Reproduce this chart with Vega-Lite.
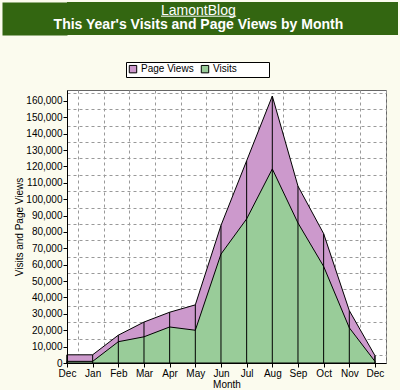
{
  "$schema": "https://vega.github.io/schema/vega-lite/v6.json",
  "background": "#fbfbee",
  "padding": {"left": 14, "top": 2, "right": 2, "bottom": 0},
  "spacing": 54,
  "config": {
    "font": "Liberation Sans",
    "axis": {
      "labelFont": "Liberation Sans",
      "labelFontSize": 10,
      "labelColor": "black",
      "titleFont": "Liberation Sans",
      "titleFontSize": 10,
      "titleFontWeight": "normal",
      "titleColor": "black",
      "domainColor": "black",
      "tickColor": "black"
    },
    "legend": {
      "labelFont": "Liberation Sans",
      "labelFontSize": 10,
      "labelColor": "black"
    }
  },
  "vconcat": [
    {
      "width": 331,
      "height": 33,
      "view": {"fill": "#336611", "stroke": null},
      "data": {
        "values": [
          {"line": "LamontBlog", "kind": "site"},
          {"line": "This Year's Visits and Page Views by Month", "kind": "title"}
        ]
      },
      "layer": [
        {
          "transform": [{"filter": "datum.kind == 'site'"}],
          "mark": {"type": "text", "color": "white", "fontSize": 14, "font": "Liberation Sans", "baseline": "alphabetic", "align": "center"},
          "encoding": {
            "text": {"field": "line"},
            "x": {"datum": 0.397, "type": "quantitative", "scale": {"domain": [0, 1]}, "axis": null},
            "y": {
              "datum": 0.62, "type": "quantitative", "scale": {"domain": [0, 1]},
              "axis": {"orient": "left", "offset": 32.5, "domainWidth": 65, "domainColor": "#336611", "domainCap": "butt", "labels": false, "ticks": false, "grid": false, "title": null}
            }
          }
        },
        {
          "transform": [{"filter": "datum.kind == 'title'"}],
          "mark": {"type": "text", "color": "white", "fontSize": 14, "fontWeight": "bold", "font": "Liberation Sans", "baseline": "alphabetic", "align": "center"},
          "encoding": {
            "text": {"field": "line"},
            "x": {"datum": 0.397, "type": "quantitative", "scale": {"domain": [0, 1]}, "axis": null},
            "y": {
              "datum": 0.18, "type": "quantitative", "scale": {"domain": [0, 1]},
              "axis": {"orient": "left", "offset": 32.5, "domainWidth": 65, "domainColor": "#336611", "domainCap": "butt", "labels": false, "ticks": false, "grid": false, "title": null}
            }
          }
        },
        {
          "transform": [{"filter": "datum.kind == 'site'"}],
          "mark": {"type": "rule", "color": "white", "strokeWidth": 1},
          "encoding": {
            "x": {"datum": 0.284, "type": "quantitative", "scale": {"domain": [0, 1]}, "axis": null},
            "x2": {"datum": 0.511},
            "y": {
              "datum": 0.57, "type": "quantitative", "scale": {"domain": [0, 1]},
              "axis": {"orient": "left", "offset": 32.5, "domainWidth": 65, "domainColor": "#336611", "domainCap": "butt", "labels": false, "ticks": false, "grid": false, "title": null}
            }
          }
        }
      ]
    },
    {
      "width": 319,
      "height": 273,
      "view": {"fill": "white", "stroke": "#666666"},
      "data": {
        "values": [
          {"idx": 0, "month": "Dec", "series": "Visits", "value": 1000},
          {"idx": 1, "month": "Jan", "series": "Visits", "value": 1000},
          {"idx": 2, "month": "Feb", "series": "Visits", "value": 13000},
          {"idx": 3, "month": "Mar", "series": "Visits", "value": 16000},
          {"idx": 4, "month": "Apr", "series": "Visits", "value": 22000},
          {"idx": 5, "month": "May", "series": "Visits", "value": 20000},
          {"idx": 6, "month": "Jun", "series": "Visits", "value": 66500},
          {"idx": 7, "month": "Jul", "series": "Visits", "value": 88000},
          {"idx": 8, "month": "Aug", "series": "Visits", "value": 118500},
          {"idx": 9, "month": "Sep", "series": "Visits", "value": 85500},
          {"idx": 10, "month": "Oct", "series": "Visits", "value": 59000},
          {"idx": 11, "month": "Nov", "series": "Visits", "value": 21500},
          {"idx": 12, "month": "Dec", "series": "Visits", "value": 1000},
          {"idx": 0, "month": "Dec", "series": "Page Views", "value": 5000},
          {"idx": 1, "month": "Jan", "series": "Page Views", "value": 5000},
          {"idx": 2, "month": "Feb", "series": "Page Views", "value": 17000},
          {"idx": 3, "month": "Mar", "series": "Page Views", "value": 25000},
          {"idx": 4, "month": "Apr", "series": "Page Views", "value": 31000},
          {"idx": 5, "month": "May", "series": "Page Views", "value": 35500},
          {"idx": 6, "month": "Jun", "series": "Page Views", "value": 84000},
          {"idx": 7, "month": "Jul", "series": "Page Views", "value": 123500},
          {"idx": 8, "month": "Aug", "series": "Page Views", "value": 163000},
          {"idx": 9, "month": "Sep", "series": "Page Views", "value": 108000},
          {"idx": 10, "month": "Oct", "series": "Page Views", "value": 79000},
          {"idx": 11, "month": "Nov", "series": "Page Views", "value": 32000},
          {"idx": 12, "month": "Dec", "series": "Page Views", "value": 4500}
        ]
      },
      "resolve": {"axis": {"x": "independent", "y": "independent"}},
      "layer": [
        {
          "mark": {"type": "rule", "opacity": 0},
          "encoding": {
            "x": {
              "field": "idx", "type": "quantitative",
              "scale": {"domain": [0, 12.43], "nice": false, "zero": false},
              "axis": {
                "orient": "top", "grid": true, "gridColor": "#999999", "gridDash": [3, 3], "gridOpacity": 1,
                "values": [0.43, 1.43, 2.43, 3.43, 4.43, 5.43, 6.43, 7.43, 8.43, 9.43, 10.43, 11.43, 12.43],
                "labels": false, "ticks": false, "domain": false, "title": null
              }
            },
            "y": {
              "field": "value", "type": "quantitative",
              "scale": {"domain": [0, 166700], "nice": false},
              "axis": {
                "orient": "left", "grid": true, "gridColor": "#999999", "gridDash": [3, 3], "gridOpacity": 1,
                "values": [4900, 14900, 24900, 34900, 44900, 54900, 64900, 74900, 84900, 94900, 104900, 114900, 124900, 134900, 144900, 154900, 164900],
                "labels": false, "ticks": false, "domain": false, "title": null
              }
            }
          }
        },
        {
          "transform": [{"filter": "datum.series == 'Page Views'"}],
          "mark": {"type": "area", "stroke": "black", "strokeWidth": 1, "opacity": 1},
          "encoding": {
            "x": {
              "field": "idx", "type": "quantitative",
              "axis": {
                "orient": "bottom", "grid": false, "title": "Month", "titlePadding": 1,
                "values": [0, 1, 2, 3, 4, 5, 6, 7, 8, 9, 10, 11, 12],
                "labelExpr": "['Dec','Jan','Feb','Mar','Apr','May','Jun','Jul','Aug','Sep','Oct','Nov','Dec'][datum.value]",
                "labelFlush": false, "labelOverlap": false, "tickSize": 4, "labelPadding": 1, "zindex": 1
              }
            },
            "y": {
              "field": "value", "type": "quantitative", "stack": null,
              "axis": {
                "orient": "left", "grid": false, "title": "Visits and Page Views", "titlePadding": 1,
                "values": [0, 10000, 20000, 30000, 40000, 50000, 60000, 70000, 80000, 90000, 100000, 110000, 120000, 130000, 140000, 150000, 160000],
                "format": ",d", "tickSize": 4, "labelPadding": 1, "zindex": 1
              }
            },
            "color": {
              "field": "series", "type": "nominal",
              "scale": {"domain": ["Page Views", "Visits"], "range": ["#cc99cc", "#99cc99"]},
              "legend": {
                "orient": "none", "legendX": 59, "legendY": 60, "direction": "horizontal", "title": null,
                "fillColor": "white", "strokeColor": "black", "padding": 2,
                "symbolType": "square", "symbolSize": 55, "symbolStrokeColor": "black", "symbolStrokeWidth": 1, "symbolOpacity": 1,
                "columnPadding": 5, "labelOffset": 3, "labelLimit": 400,
                "labelExpr": "datum.label == 'Visits' ? datum.label + '\u2003\u2003\u2003\u200b' : datum.label"
              }
            }
          }
        },
        {
          "transform": [{"filter": "datum.series == 'Visits'"}],
          "mark": {"type": "area", "stroke": "black", "strokeWidth": 1, "opacity": 1},
          "encoding": {
            "x": {"field": "idx", "type": "quantitative", "axis": null},
            "y": {"field": "value", "type": "quantitative", "stack": null, "axis": null},
            "color": {"field": "series", "type": "nominal"}
          }
        },
        {
          "transform": [{"filter": "datum.series == 'Page Views'"}],
          "mark": {"type": "rule", "color": "black", "strokeWidth": 1},
          "encoding": {
            "x": {"field": "idx", "type": "quantitative", "axis": null},
            "y": {"field": "value", "type": "quantitative", "axis": null},
            "y2": {"datum": 0}
          }
        }
      ]
    }
  ]
}
